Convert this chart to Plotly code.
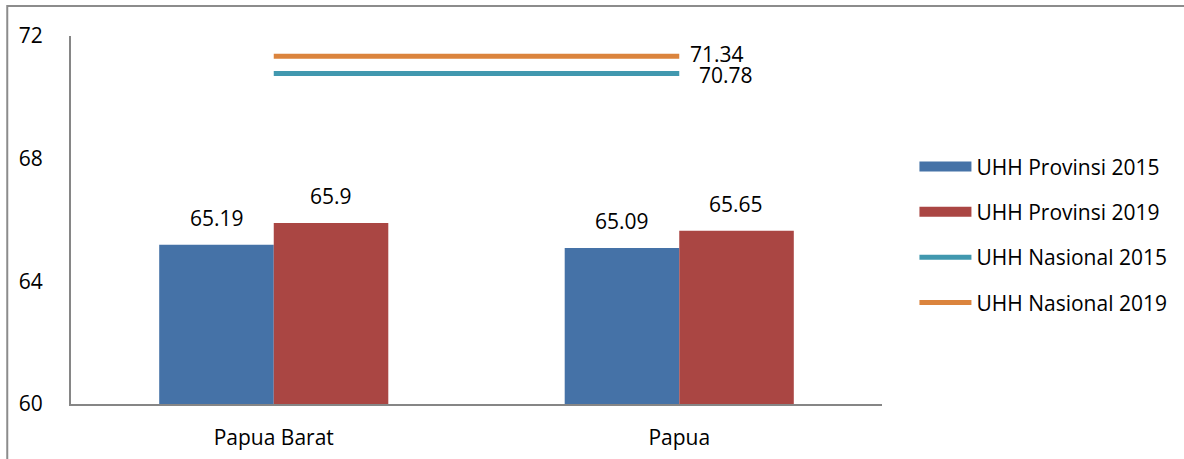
import plotly.graph_objects as go

# Angka Harapan Hidup (UHH) per provinsi vs nasional
provinces = ["Papua Barat", "Papua"]
uhh_prov_2015 = [65.19, 65.09]
uhh_prov_2019 = [65.9, 65.65]
uhh_nas_2015 = 70.78
uhh_nas_2019 = 71.34
y_ticks = [60, 64, 68, 72]

BLUE = "#4572A7"
RED = "#AA4643"
TEAL = "#4198AF"
ORANGE = "#DB843D"
FONT = "Open Sans"
FS = 21

fig = go.Figure()
fig.add_trace(go.Bar(x=provinces, y=uhh_prov_2015, name="UHH Provinsi 2015",
                     marker=dict(color=BLUE, line=dict(width=0)), showlegend=False))
fig.add_trace(go.Bar(x=provinces, y=uhh_prov_2019, name="UHH Provinsi 2019",
                     marker=dict(color=RED, line=dict(width=0)), showlegend=False))
# wide legend swatches for the bar series
for name, color, grp in (("UHH Provinsi 2015", BLUE, "a"), ("UHH Provinsi 2019", RED, "b")):
    fig.add_trace(go.Scatter(x=[None], y=[None], mode="lines", name=name,
                             line=dict(color=color, width=16), legendgroup=grp))
fig.add_trace(go.Scatter(x=provinces, y=[uhh_nas_2015] * len(provinces), mode="lines",
                         name="UHH Nasional 2015", line=dict(color=TEAL, width=5),
                         legendgroup="c"))
fig.add_trace(go.Scatter(x=provinces, y=[uhh_nas_2019] * len(provinces), mode="lines",
                         name="UHH Nasional 2019", line=dict(color=ORANGE, width=5),
                         legendgroup="d"))

annotations = []
# bar value labels
for vals, shift in ((uhh_prov_2015, -57), (uhh_prov_2019, 57)):
    for p, v in zip(provinces, vals):
        annotations.append(dict(x=p, y=v, text=f"{v:g}", showarrow=False,
                                xshift=shift, yanchor="bottom", yshift=11,
                                font=dict(family=FONT, size=FS, color="black")))
# national line labels at right end
for v, xs, ys in ((uhh_nas_2019, 9, 2), (uhh_nas_2015, 18, -2)):
    annotations.append(dict(x=provinces[-1], y=v, text=f"{v:g}", showarrow=False,
                            xanchor="left", xshift=xs, yanchor="middle", yshift=ys,
                            font=dict(family=FONT, size=FS, color="black")))

fig.update_layout(
    width=1184, height=459,
    margin=dict(l=71, r=299, t=36, b=55),
    paper_bgcolor="white", plot_bgcolor="white",
    barmode="group", bargap=0.435, bargroupgap=0,
    font=dict(family=FONT, size=FS, color="black"),
    showlegend=True,
    legend=dict(x=1.04, xanchor="left", y=0.70, yanchor="top",
                itemwidth=52, tracegroupgap=15, traceorder="grouped",
                font=dict(family=FONT, size=FS, color="black")),
    annotations=annotations,
    shapes=[dict(type="rect", xref="paper", yref="paper",
                 x0=-0.0786, x1=1.5, y0=-0.3, y1=1.0815,
                 line=dict(color="#8C8C8C", width=2), fillcolor="rgba(0,0,0,0)")],
)
fig.update_xaxes(showline=True, linecolor="#868686", linewidth=2, ticks="",
                 showgrid=False, automargin=False, ticklabelstandoff=14,
                 tickfont=dict(family=FONT, size=FS))
fig.update_yaxes(range=[60, 72], tickvals=y_ticks, showline=True, linecolor="#868686",
                 linewidth=2, ticks="", showgrid=False, zeroline=False, automargin=False,
                 ticklabelstandoff=22, tickfont=dict(family=FONT, size=FS))

fig.write_html("out.html")
